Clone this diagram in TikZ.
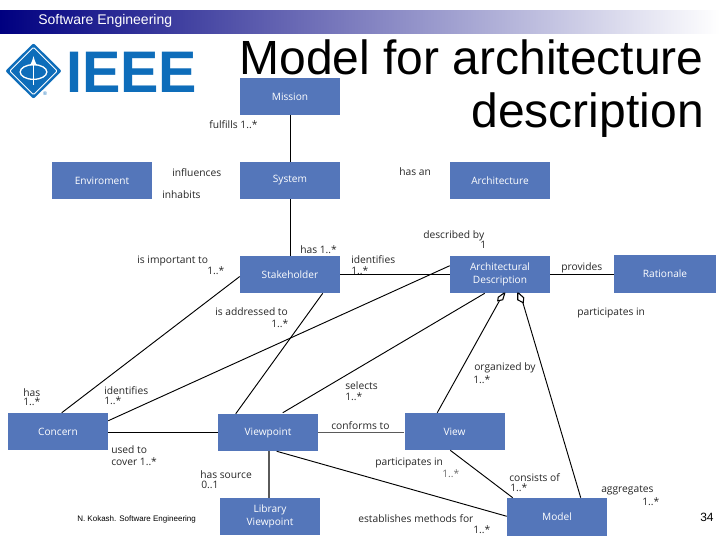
\documentclass[tikz,border=0pt]{standalone}
\usepackage{fontspec}
\setmainfont{Liberation Sans}
\newfontfamily\lblfont{Open Sans}
\usetikzlibrary{calc,shapes.geometric}
\definecolor{boxblue}{RGB}{84,118,186}
\definecolor{ieeeblue}{RGB}{14,109,186}
\definecolor{bandblue}{RGB}{0,0,128}
\definecolor{thickgray}{RGB}{90,90,90}
\definecolor{lblgray}{RGB}{110,110,110}
\tikzset{
  entity/.style={fill=boxblue,text=white,minimum width=75pt,minimum height=27.75pt,inner sep=0pt,align=center,font=\lblfont\fontsize{7.6}{9.4}\selectfont},
  lbl/.style={anchor=west,inner sep=0pt,yshift=-1pt,font=\lblfont\fontsize{7.7}{9}\selectfont,text=black!85},
  assoc/.style={draw=black,line width=0.7pt},
  heavy/.style={draw=thickgray,line width=1.4pt},
  aggr/.style={draw=black,line width=0.8pt,fill=white},
  titletext/.style={anchor=east,inner sep=0pt,yshift=-1.5pt,font=\fontsize{36}{40}\selectfont}
}
\begin{document}
\begin{tikzpicture}[x=0.75pt,y=-0.75pt]
\useasboundingbox (0,0) rectangle (720,540);
% header band
\shade[left color=bandblue,right color=white] (0,10) rectangle (720,33);
\node[anchor=west,inner sep=0pt,text=white,font=\fontsize{10.5}{12}\selectfont] (hdr) at (38,21) {Software Engineering};
% logo
\node[diamond,fill=ieeeblue,minimum width=42.5pt,minimum height=42pt,inner sep=0pt,rounded corners=1.5pt] (logoD) at (33.5,71) {};
\node[diamond,draw=white,line width=0.7pt,minimum width=36pt,minimum height=36pt,inner sep=0pt,rounded corners=1pt] (logoI) at (33.5,71) {};
\node[ellipse,draw=white,line width=1pt,minimum width=20pt,minimum height=11pt,inner sep=0pt] (logoE) at (33.5,72) {};
\draw[white,line width=1.4pt,-{latex}] (logoE.center)+(0,13) -- +(0,-16);
\node[inner sep=0pt,text=ieeeblue,font=\fontsize{4}{4}\selectfont] (logoR) at (45,94) {®};
\node[anchor=west,inner sep=0pt,text=ieeeblue,font=\bfseries\fontsize{44}{44}\selectfont] (logoT) at (66,72) {\scalebox{0.98}[1]{IEEE}};
% title
\node[titletext] (t1) at (704,55) {Model for architecture};
\node[titletext] (t2) at (704,113) {description};
% entities
\node[entity] (mission) at (290,96.5) {Mission};
\node[entity] (system) at (290,180.5) {System};
\node[entity] (env) at (102,180.5) {Enviroment};
\node[entity] (arch) at (500,180.5) {Architecture};
\node[entity] (ad) at (500,274.5) {Architectural\\Description};
\node[entity,minimum width=76.5pt,minimum height=28.5pt] (rat) at (665,274) {Rationale};
\node[entity] (stake) at (290,274.5) {Stakeholder};
\node[entity] (concern) at (58,431.5) {Concern};
\node[entity] (vp) at (268,432.5) {Viewpoint};
\node[entity] (view) at (454.5,431.5) {View};
\node[entity] (lib) at (270,516.5) {Library\\Viewpoint};
\node[entity,minimum height=28.5pt] (model) at (557,517) {Model};
% connectors
\draw[assoc] (mission) -- (system);
\draw[assoc] (system) -- (stake);
\draw[assoc] (stake) -- (ad);
\draw[assoc] (ad) -- (ad -| rat.west);
\draw[assoc] (concern.east |- vp.west) -- (vp.west);
\draw[heavy] (vp.east) -- (vp.east -| view.west);
\draw[heavy] ($(vp.south)+(1,0)$) -- ($(lib.north)-(1,0)$);
\draw[assoc] ($(stake.west)+(0,2)$) -- ($(concern.north west)+(54,0)$);
\draw[assoc] ($(stake.south west)+(83,0)$) -- ($(vp.north west)+(18,0)$);
\draw[assoc] ($(concern.north east)+(0,8)$) -- ($(ad.north west)+(0,10)$);
\draw[assoc] ($(vp.north west)+(65,-1)$) -- ($(ad.south west)+(35,0)$);
\draw[assoc] ($(view.north west)+(33,0)$) -- ($(ad.south west)+(50,7)$);
\draw[assoc] ($(model.north west)+(74,0)$) -- ($(ad.south west)+(73,9)$);
\draw[assoc] ($(view.south west)+(46,0)$) -- ($(model.north west)+(6,0)$);
\draw[assoc] ($(vp.south west)+(59,0)$) -- ($(model.south west)+(0,-20)$);
% aggregation diamonds
\draw[aggr] ($(ad.south west)+(55,0)$) -- ++(-1,0) -- ++(-5.5,4) -- ++(-0.5,3.5) -- ++(5,-1) -- cycle;
\draw[aggr] ($(ad.south west)+(68,0)$) -- ++(1,0) -- ++(5,4.5) -- ++(-0.5,5) -- ++(-5.5,-3) -- cycle;
% labels
\node[lbl] (l1) at (209,123) {fulfills 1..*};
\node[lbl] (l2) at (172,171) {influences};
\node[lbl] (l3) at (162,193) {inhabits};
\node[lbl] (l4) at (399,170) {has an};
\node[lbl] (l5) at (423,234) {described by};
\node[lbl] (l6) at (480,243) {1};
\node[lbl] (l7) at (300,248) {has 1..*};
\node[lbl] (l8) at (351,258) {identifies};
\node[lbl] (l9) at (351,269) {1..*};
\node[lbl] (l10) at (137,260) {is important to};
\node[lbl] (l11) at (207,269) {1..*};
\node[lbl] (l12) at (561,266) {provides};
\node[lbl] (l13) at (577,312) {participates in};
\node[lbl] (l14) at (215,310) {is addressed to};
\node[lbl] (l15) at (271,322) {1..*};
\node[lbl] (l16) at (474,366) {organized by};
\node[lbl] (l17) at (473,378) {1..*};
\node[lbl] (l18) at (345,384) {selects};
\node[lbl] (l19) at (345,395) {1..*};
\node[lbl] (l20) at (23,391) {has};
\node[lbl] (l21) at (23,400) {1..*};
\node[lbl] (l22) at (104,389) {identifies};
\node[lbl] (l23) at (104,399) {1..*};
\node[lbl] (l24) at (331,424) {conforms to};
\node[lbl] (l25) at (111,448) {used to};
\node[lbl] (l26) at (111,460) {cover 1..*};
\node[lbl] (l27) at (375,462) {participates in};
\node[lbl,text=lblgray] (l28) at (442,472) {1..*};
\node[lbl] (l29) at (509,476) {consists of};
\node[lbl] (l30) at (510,486) {1..*};
\node[lbl] (l31) at (601,489) {aggregates};
\node[lbl] (l32) at (642,500) {1..*};
\node[lbl] (l33) at (200,473) {has source};
\node[lbl] (l34) at (201,484) {0..1};
\node[lbl] (l35) at (358,517) {establishes methods for};
\node[lbl] (l36) at (473,528) {1..*};
\node[anchor=west,inner sep=0pt,font=\fontsize{6}{7}\selectfont] (foot) at (77,519) {N. Kokash. Software Engineering};
\node[anchor=west,inner sep=0pt,font=\fontsize{9}{10}\selectfont] (pg) at (700,517) {34};
\end{tikzpicture}
\end{document}
